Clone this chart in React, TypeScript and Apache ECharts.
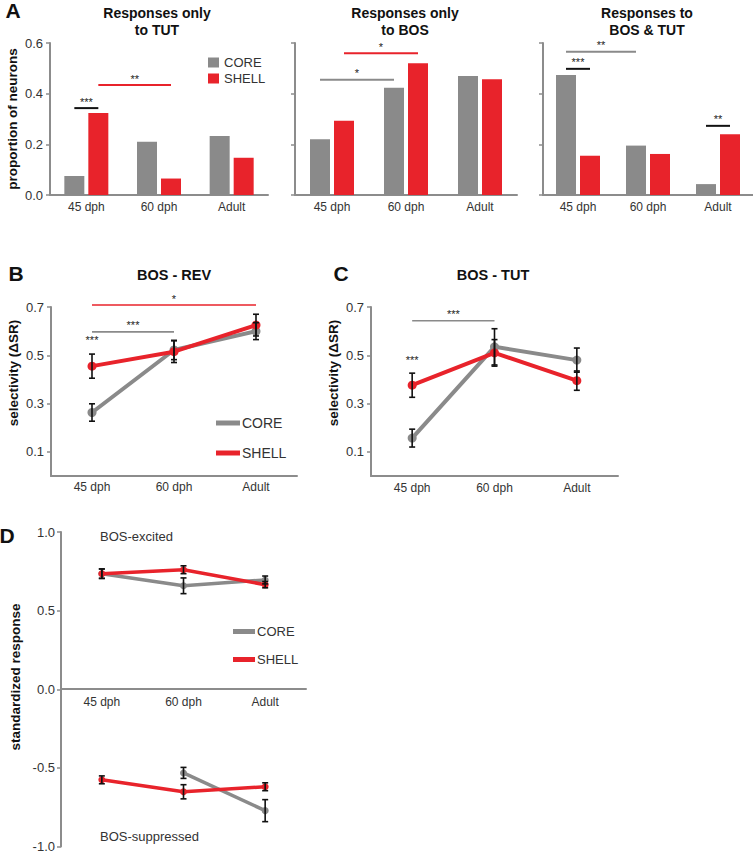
import React, { useEffect, useRef } from "react";
import * as echarts from "echarts";

// ---------- DATA ----------
const ages = ["45 dph", "60 dph", "Adult"];

// Panel A: proportion of neurons
const tutCore = [0.075, 0.21, 0.233];
const tutShell = [0.324, 0.065, 0.147];
const bosCore = [0.22, 0.423, 0.47];
const bosShell = [0.293, 0.52, 0.457];
const bothCore = [0.474, 0.195, 0.043];
const bothShell = [0.155, 0.162, 0.24];
const aTicks = [0, 0.2, 0.4, 0.6];

// Significance bars: [fromCat, fromGroup, toCat, toGroup, y, label, colour]
// group: 0 = CORE bar, 1 = SHELL bar, 2 = category centre, -1 = label only
const sigTut = [
  [0, 0, 0, 1, 0.343, "***", "black"],
  [0, 1, 1, 1, 0.434, "**", "red"],
];
const sigBos = [
  [0, 0, 1, 0, 0.455, "*", "gray"],
  [0, 1, 1, 1, 0.56, "*", "red"],
];
const sigBoth = [
  [0, 0, 0, 1, 0.498, "***", "black"],
  [0, 0, 1, 0, 0.565, "**", "gray"],
  [2, 0, 2, 1, 0.273, "**", "black"],
];

// Panel B: BOS - REV selectivity
const revCore = [0.263, 0.522, 0.6];
const revCoreErr = [0.036, 0.04, 0.035];
const revShell = [0.455, 0.515, 0.625];
const revShellErr = [0.05, 0.045, 0.045];
const sigRev = [
  [0, 2, 2, 2, 0.708, "*", "red"],
  [0, 2, 1, 2, 0.597, "***", "gray"],
  [0, -1, 0, -1, 0.535, "***", "none"],
];

// Panel C: BOS - TUT selectivity
const tutSelCore = [0.157, 0.535, 0.48];
const tutSelCoreErr = [0.037, 0.075, 0.05];
const tutSelShell = [0.376, 0.51, 0.395];
const tutSelShellErr = [0.05, 0.055, 0.04];
const sigTutSel = [
  [0, 2, 1, 2, 0.643, "***", "gray"],
  [0, -1, 0, -1, 0.454, "***", "none"],
];
const selTicks = [0.1, 0.3, 0.5, 0.7];

// Panel D: standardized response
const excCore = [0.735, 0.658, 0.695];
const excCoreErr = [0.03, 0.05, 0.025];
const excShell = [0.735, 0.76, 0.665];
const excShellErr = [0.03, 0.025, 0.02];
const supCore = [null, -0.532, -0.772];
const supCoreErr = [0, 0.035, 0.07];
const supShell = [-0.576, -0.652, -0.62];
const supShellErr = [0.025, 0.045, 0.025];
const dTicks = [-1, -0.5, 0, 0.5, 1];

// ---------- STYLE ----------
const GRAY = "#8a8a8a";
const RED = "#e8232b";
const AXIS = "#8c8c8c";
const TXT = "#333333";
const STAR = "#222222";
const FONT = "Arial, 'Liberation Sans', sans-serif";
const colourOf: Record<string, string> = { black: "#111111", red: RED, gray: GRAY };

function errData(vals: (number | null)[], errs: number[]) {
  const out: number[][] = [];
  vals.forEach((v, i) => {
    if (v != null) out.push([i, v - errs[i], v + errs[i]]);
  });
  return out;
}

function errSeries(idx: number, vals: (number | null)[], errs: number[]) {
  return {
    type: "custom",
    xAxisIndex: idx,
    yAxisIndex: idx,
    z: 10,
    silent: true,
    itemStyle: { color: "#111111" },
    data: errData(vals, errs),
    encode: { x: 0, y: [1, 2] },
    renderItem: (params: any, api: any) => {
      const x = api.value(0);
      const lo = api.coord([x, api.value(1)]);
      const hi = api.coord([x, api.value(2)]);
      const w = 3;
      const st = { stroke: "#111111", lineWidth: 1.6 };
      return {
        type: "group",
        children: [
          { type: "line", shape: { x1: lo[0], y1: lo[1], x2: hi[0], y2: hi[1] }, style: st },
          { type: "line", shape: { x1: lo[0] - w, y1: lo[1], x2: lo[0] + w, y2: lo[1] }, style: st },
          { type: "line", shape: { x1: hi[0] - w, y1: hi[1], x2: hi[0] + w, y2: hi[1] }, style: st },
        ],
      };
    },
  };
}

function sigSeries(idx: number, items: any[], lineW: number) {
  const off = (g: number) => (g === 0 ? -12 : g === 1 ? 12 : 0);
  return {
    type: "custom",
    xAxisIndex: idx,
    yAxisIndex: idx,
    z: 11,
    silent: true,
    clip: false,
    itemStyle: { color: STAR },
    data: items.map((it) => [it[0], it[4]]),
    encode: { x: 0, y: 1 },
    renderItem: (params: any, api: any) => {
      const it = items[params.dataIndex];
      const p1 = api.coord([it[0], it[4]]);
      const p2 = api.coord([it[2], it[4]]);
      const x1 = p1[0] + off(it[1]);
      const x2 = p2[0] + off(it[3]);
      const children: any[] = [];
      if (it[1] !== -1) {
        children.push({
          type: "line",
          shape: { x1, y1: p1[1], x2, y2: p1[1] },
          style: { stroke: colourOf[it[6]], lineWidth: lineW },
        });
      }
      children.push({
        type: "text",
        x: (x1 + x2) / 2,
        y: p1[1] - 1,
        style: {
          text: it[5],
          fill: STAR,
          font: `11px ${FONT}`,
          align: "center",
          verticalAlign: "bottom",
        },
      });
      return { type: "group", children };
    },
  };
}

const fmt1 = (v: number) => v.toFixed(1);

function catAxis(idx: number, margin: number, fontSize: number, offset = 0) {
  return {
    type: "category",
    gridIndex: idx,
    data: ages,
    boundaryGap: true,
    position: "bottom",
    offset,
    axisLine: { onZero: false, lineStyle: { color: AXIS, width: 2 } },
    axisTick: { show: false },
    axisLabel: { margin, color: TXT, fontSize, fontFamily: FONT },
  };
}

function valAxis(idx: number, min: number, max: number, ticks: number[], showLabels: boolean, margin: number, fontSize: number) {
  return {
    type: "value",
    gridIndex: idx,
    min,
    max,
    splitLine: { show: false },
    axisLine: { show: true, onZero: false, lineStyle: { color: AXIS, width: 2 } },
    axisTick: { show: true, length: 4, customValues: ticks, lineStyle: { color: AXIS, width: 1.5 } },
    axisLabel: {
      show: showLabels,
      customValues: ticks,
      formatter: fmt1,
      margin,
      color: TXT,
      fontSize,
      fontFamily: FONT,
    },
  };
}

function barPair(idx: number, core: number[], shell: number[]) {
  const base = { type: "bar", xAxisIndex: idx, yAxisIndex: idx, barWidth: 20, barGap: "20%" };
  return [
    { ...base, name: "CORE", data: core, itemStyle: { color: GRAY } },
    { ...base, name: "SHELL", data: shell, itemStyle: { color: RED } },
  ];
}

function linePair(idx: number, core: (number | null)[], shell: (number | null)[], lw: number, sym: number) {
  const base = {
    type: "line",
    xAxisIndex: idx,
    yAxisIndex: idx,
    symbol: "circle",
    symbolSize: sym,
    connectNulls: false,
  };
  return [
    { ...base, name: "CORE", z: 3, data: core, lineStyle: { color: GRAY, width: lw }, itemStyle: { color: GRAY } },
    { ...base, name: "SHELL", z: 4, data: shell, lineStyle: { color: RED, width: lw }, itemStyle: { color: RED } },
  ];
}

function txt(text: string, x: number, y: number, font: string, opts: any = {}) {
  return {
    type: "text",
    x,
    y,
    rotation: opts.rotation || 0,
    silent: true,
    style: {
      text,
      font,
      fill: opts.fill || "#111111",
      align: opts.align || "center",
      verticalAlign: "middle",
    },
  };
}

// Panel D grid height (the zero line sits half-way)
const D_HEIGHT = 316;

export default function App() {
  const ref = useRef<HTMLDivElement>(null);
  useEffect(() => {
    if (!ref.current) return;
    const chart = echarts.init(ref.current, undefined, { renderer: "svg" });
    const title = `bold 14px ${FONT}`;
    const title2 = `bold 14.5px ${FONT}`;
    const ylab = `bold 13.5px ${FONT}`;
    const letter = `bold 21px ${FONT}`;
    const option: any = {
      animation: false,
      backgroundColor: "#ffffff",
      grid: [
        { left: 50, top: 43, width: 218, height: 152 },
        { left: 295, top: 43, width: 222, height: 152 },
        { left: 543, top: 43, width: 210, height: 152 },
        { left: 51, top: 307, width: 246, height: 169 },
        { left: 371, top: 307, width: 247, height: 169 },
        { left: 61, top: 532, width: 245, height: D_HEIGHT },
      ],
      xAxis: [
        catAxis(0, 6, 12),
        catAxis(1, 6, 12),
        catAxis(2, 6, 12),
        catAxis(3, 5, 12),
        catAxis(4, 6, 12),
        catAxis(5, 7, 12, -D_HEIGHT / 2),
      ],
      yAxis: [
        valAxis(0, 0, 0.6, aTicks, true, 7, 13),
        valAxis(1, 0, 0.6, aTicks, false, 7, 13),
        valAxis(2, 0, 0.6, aTicks, false, 7, 13),
        valAxis(3, 0, 0.7, selTicks, true, 7, 13),
        valAxis(4, 0, 0.7, selTicks, true, 7, 13),
        valAxis(5, -1, 1, dTicks, true, 6, 13),
      ],
      legend: [
        {
          left: 203,
          top: 51,
          orient: "vertical",
          itemWidth: 11,
          itemHeight: 10,
          itemGap: 3,
          selectedMode: false,
          data: [
            { name: "CORE", icon: "rect" },
            { name: "SHELL", icon: "rect" },
          ],
          textStyle: { fontSize: 13, color: TXT, fontFamily: FONT },
        },
        {
          left: 211,
          top: 411,
          orient: "vertical",
          itemWidth: 24,
          itemHeight: 5,
          itemGap: 16,
          selectedMode: false,
          data: [
            { name: "CORE", icon: "rect" },
            { name: "SHELL", icon: "rect" },
          ],
          textStyle: { fontSize: 14, color: TXT, fontFamily: FONT, padding: [0, 0, 0, -3] },
        },
        {
          left: 228,
          top: 620,
          orient: "vertical",
          itemWidth: 22,
          itemHeight: 5,
          itemGap: 15,
          selectedMode: false,
          data: [
            { name: "CORE", icon: "rect" },
            { name: "SHELL", icon: "rect" },
          ],
          textStyle: { fontSize: 13, color: TXT, fontFamily: FONT, padding: [0, 0, 0, -3] },
        },
      ],
      series: [
        ...barPair(0, tutCore, tutShell),
        ...barPair(1, bosCore, bosShell),
        ...barPair(2, bothCore, bothShell),
        sigSeries(0, sigTut, 2),
        sigSeries(1, sigBos, 2),
        sigSeries(2, sigBoth, 2),
        ...linePair(3, revCore, revShell, 4, 9),
        errSeries(3, revCore, revCoreErr),
        errSeries(3, revShell, revShellErr),
        sigSeries(3, sigRev, 1.6),
        ...linePair(4, tutSelCore, tutSelShell, 4, 9),
        errSeries(4, tutSelCore, tutSelCoreErr),
        errSeries(4, tutSelShell, tutSelShellErr),
        sigSeries(4, sigTutSel, 1.6),
        ...linePair(5, excCore, excShell, 3.5, 7),
        ...linePair(5, supCore, supShell, 3.5, 7),
        errSeries(5, excCore, excCoreErr),
        errSeries(5, excShell, excShellErr),
        errSeries(5, supCore, supCoreErr),
        errSeries(5, supShell, supShellErr),
      ],
      graphic: [
        txt("A", 13, 10, letter),
        txt("Responses only", 157, 13, title),
        txt("to TUT", 157, 30, title),
        txt("Responses only", 405, 13, title),
        txt("to BOS", 405, 30, title),
        txt("Responses to", 647, 13, title),
        txt("BOS & TUT", 647, 30, title),
        txt("proportion of neurons", 12, 119, ylab, { rotation: Math.PI / 2 }),
        txt("B", 16, 273, letter),
        txt("BOS - REV", 174, 275, title2),
        txt("selectivity (ΔSR)", 13, 373, ylab, { rotation: Math.PI / 2 }),
        txt("C", 341, 273, letter),
        txt("BOS - TUT", 493, 275, title2),
        txt("selectivity (ΔSR)", 333, 373, ylab, { rotation: Math.PI / 2 }),
        txt("D", 7, 535, letter),
        txt("standardized response", 15, 677, ylab, { rotation: Math.PI / 2 }),
        txt("BOS-excited", 100, 536, `13px ${FONT}`, { align: "left", fill: TXT }),
        txt("BOS-suppressed", 100, 836, `13px ${FONT}`, { align: "left", fill: TXT }),
      ],
    };
    chart.setOption(option);
    return () => chart.dispose();
  }, []);
  return (
    <div
      ref={ref}
      style={{ position: "absolute", left: 0, top: 0, width: 753, height: 853, background: "#fff" }}
    />
  );
}
